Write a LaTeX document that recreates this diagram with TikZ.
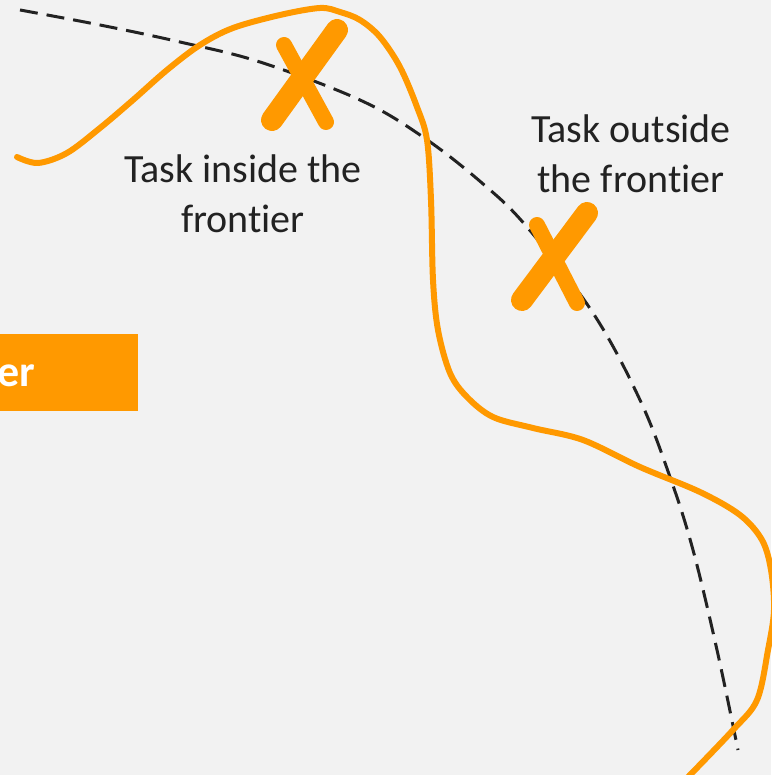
\documentclass[tikz,border=0pt]{standalone}
\usepackage{fontspec}
\setmainfont{Carlito}[Ligatures={NoCommon}]
\definecolor{frontorange}{HTML}{FF9900}
\definecolor{panelgray}{HTML}{F2F2F2}
\definecolor{inkdark}{HTML}{222222}
\begin{document}
\begin{tikzpicture}[x=1pt, y=-1pt,
  tasklabel/.style={font=\fontsize{40}{50}\selectfont, text=inkdark, align=center, inner sep=0pt},
  frontier/.style={inkdark, line width=3pt, dash pattern=on 18pt off 9pt},
  tasklimit/.style={frontorange, line width=6pt, line cap=round},
  brush/.style={frontorange, line cap=round}]
  % Background panel
  \fill[panelgray] (0,0) rectangle (771,775);
  \useasboundingbox (0,0) rectangle (771,775);
  % Tag at the left edge
  \fill[frontorange] (-1,334) rectangle (138,411);
  \node[anchor=base east, inner sep=0pt, text=white, font=\fontsize{44}{50}\selectfont\bfseries] (tag) at (35,386) {er};
  % Dashed frontier
  \draw[frontier] plot[smooth, tension=0.6] coordinates {(20,10) (100,25) (180,42) (260,62) (360,100) (423,137) (482,183) (527,227) (593,313) (640,400) (670,477) (693,550) (717,650) (738,750)};
  % Solid wiggly limit
  \draw[tasklimit] plot[smooth, tension=0.55] coordinates {(17,157) (38,163) (67,153) (100,128) (133,100) (167,70) (200,45) (233,28) (280,15) (320,8) (340,12) (360,20) (380,37) (400,67) (417,107) (427,140) (431,200) (433,280) (438,330) (450,373) (467,397) (493,417) (533,428) (583,440) (640,467) (700,492) (740,515) (762,540) (771,570) (774,610) (768,650) (757,700) (733,730) (688,777)};
  % Cross on the inner task
  \draw[brush, line width=22pt] (272,120) -- (337,30);
  \draw[brush, line width=16pt] (284,45) -- (326,122);
  % Cross on the outer task
  \draw[brush, line width=22pt] (522,300) -- (587,213);
  \draw[brush, line width=16pt] (537,225) -- (577,303);
  % Labels
  \node[tasklabel, anchor=base] (inside) at (243,233) {Task inside the\\frontier};
  \node[tasklabel, anchor=base] (outside) at (631,193) {Task outside\\the frontier};
\end{tikzpicture}
\end{document}
